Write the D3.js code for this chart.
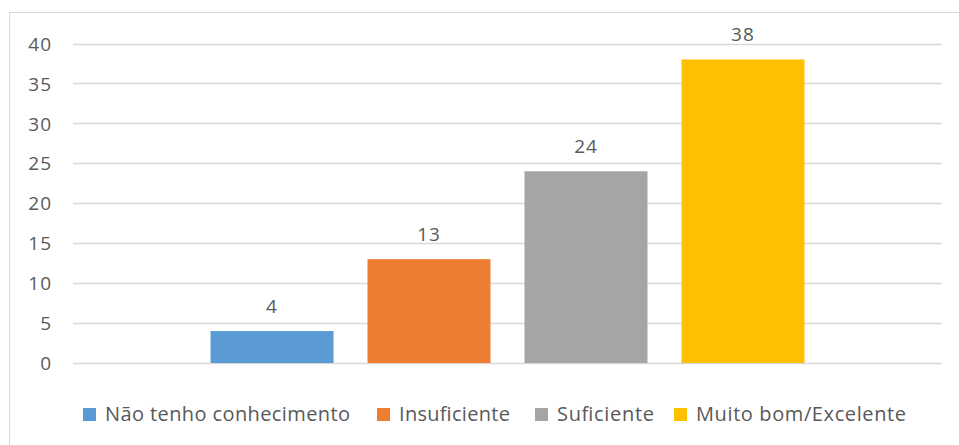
<!DOCTYPE html>
<html>
<head>
<meta charset="utf-8">
<script src="https://cdn.jsdelivr.net/npm/d3@7"></script>
<style>
  html, body { margin: 0; padding: 0; background: #fff; }
  svg { display: block; }
  text { font-family: "Open Sans", "Noto Sans", sans-serif; fill: #595959; }
</style>
</head>
<body>
<svg id="chart" width="959" height="445"></svg>
<script>
const categories = ["Não tenho conhecimento", "Insuficiente", "Suficiente", "Muito bom/Excelente"];
const values = [4, 13, 24, 38];
const colors = ["#5b9bd5", "#ed7d31", "#a5a5a5", "#ffc000"];
const yTicks = [0, 5, 10, 15, 20, 25, 30, 35, 40];

const svg = d3.select("#chart");
const W = 959, H = 445;
const FONT = '"Open Sans", "Noto Sans", sans-serif';

// chart frame
svg.append("rect")
  .attr("x", 9.5).attr("y", 12.5)
  .attr("width", W + 10).attr("height", H + 10)
  .attr("fill", "#fff").attr("stroke", "#d9d9d9").attr("stroke-width", 1);

const plot = { left: 73, right: 942, top: 43.5, bottom: 363 };

const y = d3.scaleLinear().domain([0, 40]).range([plot.bottom, plot.top]);
const x = d3.scaleBand().domain(categories)
  .range([plot.left, plot.right])
  .paddingInner(0.2166)
  .paddingOuter(0.876);

// gridlines
svg.append("g").selectAll("line").data(yTicks).join("line")
  .attr("x1", plot.left).attr("x2", plot.right)
  .attr("y1", d => Math.round(y(d)) + 0.5).attr("y2", d => Math.round(y(d)) + 0.5)
  .attr("stroke", "#d9d9d9").attr("stroke-width", 1.3);

// y axis labels
const yAxis = d3.axisLeft(y).tickValues(yTicks).tickSize(0).tickPadding(0);
const gy = svg.append("g").attr("transform", `translate(52,0)`).call(yAxis);
gy.select(".domain").remove();
gy.selectAll("text")
  .style("font-family", FONT)
  .style("font-size", "19px").style("letter-spacing", "1px")
  .attr("fill", "#595959").attr("dy", "0.35em");

// bars
svg.append("g").selectAll("rect").data(categories).join("rect")
  .attr("x", d => x(d))
  .attr("width", x.bandwidth())
  .attr("y", (d, i) => y(values[i]))
  .attr("height", (d, i) => y(0) - y(values[i]))
  .attr("fill", (d, i) => colors[i]);

// data labels
svg.append("g").selectAll("text").data(categories).join("text")
  .attr("x", d => x(d) + x.bandwidth() / 2)
  .attr("y", (d, i) => y(values[i]) - 18)
  .attr("text-anchor", "middle")
  .style("font-size", "19px").style("letter-spacing", "1px")
  .text((d, i) => values[i]);

// legend
const legendX = [83, 377, 535, 674];
const legendW = [245, 111, 97, 210];
const lg = svg.append("g");
categories.forEach((c, i) => {
  lg.append("rect")
    .attr("x", legendX[i]).attr("y", 408)
    .attr("width", 13).attr("height", 13)
    .attr("fill", colors[i]);
  lg.append("text")
    .attr("x", legendX[i] + 22).attr("y", 421)
    .attr("textLength", legendW[i]).attr("lengthAdjust", "spacing")
    .style("font-size", "20px")
    .text(c);
});
</script>
</body>
</html>
